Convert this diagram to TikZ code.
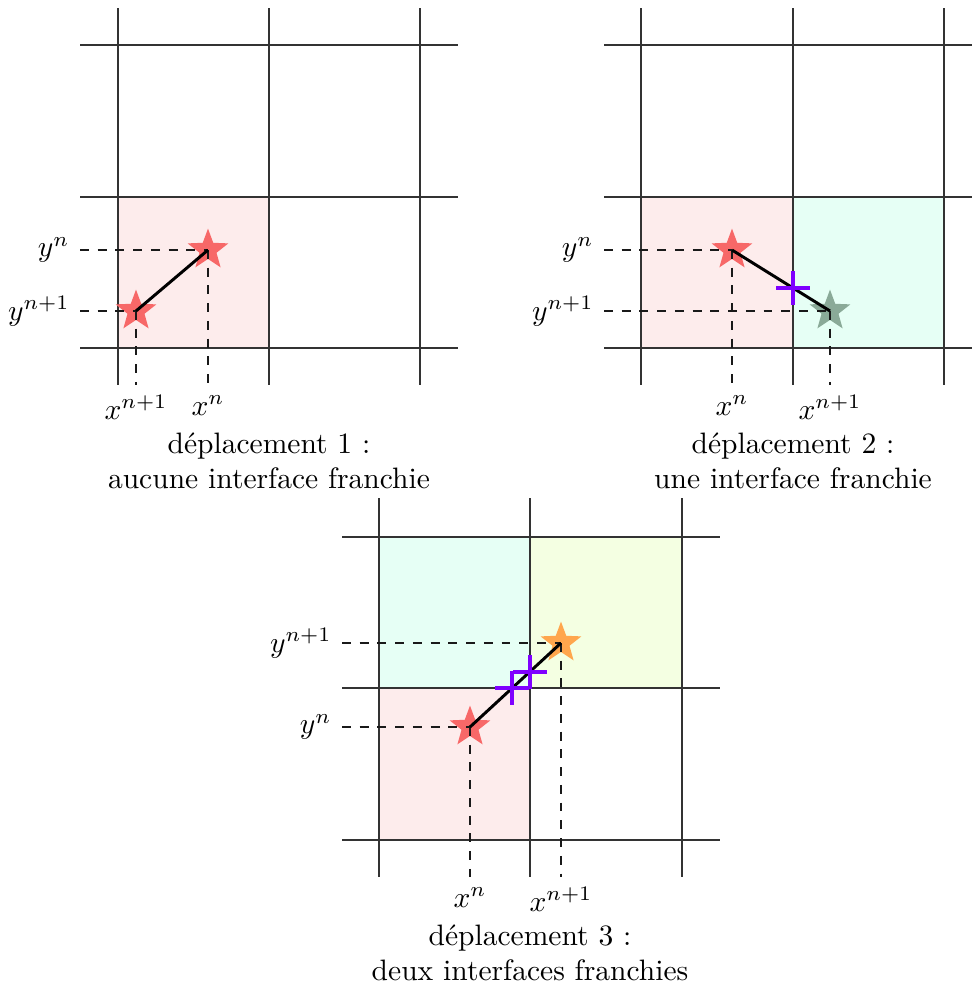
\documentclass[tikz,border=0pt]{standalone}
\usetikzlibrary{shapes.geometric}
\definecolor{starred}{RGB}{247,104,104}
\definecolor{stargreen}{RGB}{138,170,152}
\definecolor{starorange}{RGB}{255,166,77}
\definecolor{fillpink}{RGB}{253,236,236}
\definecolor{fillcyan}{RGB}{230,255,245}
\definecolor{fillyellow}{RGB}{244,255,226}
\definecolor{crosspurple}{RGB}{127,0,255}
\tikzset{
  gridline/.style={line width=0.4pt, black!80},
  guide/.style={dashed, line width=0.4pt, black!90},
  move/.style={line width=1pt, black},
  starnode/.style={star, star points=5, star point ratio=2.4, inner sep=0pt, minimum size=14.5pt, draw=none},
  redstar/.style={starnode, fill=starred},
  greenstar/.style={starnode, fill=stargreen},
  orangestar/.style={starnode, fill=starorange},
  cross/.style={line width=1.2pt, crosspurple},
  caption/.style={align=center, font=\normalsize},
}
\begin{document}
\begin{tikzpicture}[x=0.3384pt, y=-0.3384pt]
\useasboundingbox (0,0) rectangle (972,987);
% ---------------- Panel 1 ----------------
\fill[fillpink] (118,197) rectangle (269,348);
\foreach \x in {118,269,420} \draw[gridline] (\x,8) -- (\x,385);
\foreach \y in {45,197,348} \draw[gridline] (80,\y) -- (458,\y);
\node[redstar] (a1) at (208,250) {};
\node[redstar] (b1) at (136,311) {};
\node[anchor=east] (ya1) at (80,250) {$y^n$};
\node[anchor=east] (yb1) at (80,311) {$y^{n+1}$};
\node[anchor=north] (xa1) at (208,385) {$x^n$};
\node[anchor=north] (xb1) at (136,385) {$x^{n+1}$};
\draw[guide] (ya1.east) -- (a1.center);
\draw[guide] (yb1.east) -- (b1.center);
\draw[guide] (a1.center) -- (xa1.north);
\draw[guide] (b1.center) -- (xb1.north);
\draw[move] (a1.center) -- (b1.center);
\node[caption] (c1) at (269,461) {déplacement 1 :\\aucune interface franchie};
% ---------------- Panel 2 ----------------
\fill[fillpink] (641,197) rectangle (793,348);
\fill[fillcyan] (793,197) rectangle (944,348);
\foreach \x in {641,793,944} \draw[gridline] (\x,8) -- (\x,385);
\foreach \y in {45,197,348} \draw[gridline] (604,\y) -- (972,\y);
\node[redstar] (a2) at (732,250) {};
\node[greenstar] (b2) at (830,311) {};
\node[anchor=east] (ya2) at (604,250) {$y^n$};
\node[anchor=east] (yb2) at (604,311) {$y^{n+1}$};
\node[anchor=north] (xa2) at (732,385) {$x^n$};
\node[anchor=north] (xb2) at (830,385) {$x^{n+1}$};
\draw[guide] (ya2.east) -- (a2.center);
\draw[guide] (yb2.east) -- (b2.center);
\draw[guide] (a2.center) -- (xa2.north);
\draw[guide] (b2.center) -- (xb2.north);
\draw[move] (a2.center) -- (b2.center);
\coordinate (k2) at (793,288);
\draw[cross] (k2) ++(-17,0) -- ++(34,0);
\draw[cross] (k2) ++(0,-17) -- ++(0,34);
\node[caption] (c2) at (793,461) {déplacement 2 :\\une interface franchie};
% ---------------- Panel 3 ----------------
\fill[fillcyan] (379,537) rectangle (530,688);
\fill[fillyellow] (530,537) rectangle (682,688);
\fill[fillpink] (379,688) rectangle (530,840);
\foreach \x in {379,530,682} \draw[gridline] (\x,498) -- (\x,877);
\foreach \y in {537,688,840} \draw[gridline] (342,\y) -- (720,\y);
\node[redstar] (a3) at (470,727) {};
\node[orangestar] (b3) at (561,643) {};
\node[anchor=east] (ya3) at (342,727) {$y^n$};
\node[anchor=east] (yb3) at (342,643) {$y^{n+1}$};
\node[anchor=north] (xa3) at (470,877) {$x^n$};
\node[anchor=north] (xb3) at (561,877) {$x^{n+1}$};
\draw[guide] (ya3.east) -- (a3.center);
\draw[guide] (yb3.east) -- (b3.center);
\draw[guide] (a3.center) -- (xa3.north);
\draw[guide] (b3.center) -- (xb3.north);
\draw[move] (a3.center) -- (b3.center);
\coordinate (k3) at (512,688);
\coordinate (k4) at (530,672);
\draw[cross] (k3) ++(-17,0) -- ++(34,0);
\draw[cross] (k3) ++(0,-17) -- ++(0,34);
\draw[cross] (k4) ++(-17,0) -- ++(34,0);
\draw[cross] (k4) ++(0,-17) -- ++(0,34);
\node[caption] (c3) at (530,953) {déplacement 3 :\\deux interfaces franchies};
\end{tikzpicture}
\end{document}
